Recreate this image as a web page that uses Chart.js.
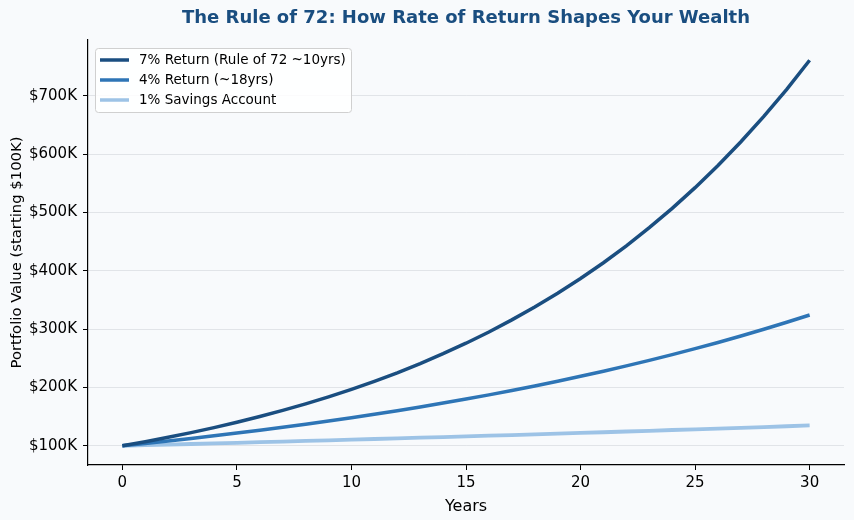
<!DOCTYPE html>
<html>
<head>
<meta charset="utf-8">
<script src="https://cdn.jsdelivr.net/npm/chart.js@4"></script>
<style>
  html, body { margin: 0; padding: 0; background: #f8fafc; }
  #wrap { width: 854px; height: 520px; }
</style>
</head>
<body>
<div id="wrap"><canvas id="myChart" width="854" height="520"></canvas></div>
<script>
// years 0..30, portfolio value in $K
let years = [0,1,2,3,4,5,6,7,8,9,10,11,12,13,14,15,16,17,18,19,20,21,22,23,24,25,26,27,28,29,30];
let ret7 = [100.0,107.0,114.5,122.5,131.1,140.3,150.1,160.6,171.8,183.8,196.7,210.5,225.2,241.0,257.9,275.9,
            295.2,315.9,338.0,361.7,387.0,414.0,443.0,474.1,507.2,542.7,580.7,621.4,664.9,711.4,761.2];
let ret4 = [100.0,104.0,108.2,112.5,117.0,121.7,126.5,131.6,136.9,142.3,148.0,153.9,160.1,166.5,173.2,180.1,
            187.3,194.8,202.6,210.7,219.1,227.9,237.0,246.5,256.3,266.6,277.2,288.3,299.9,311.9,324.3];
let ret1 = [100.0,101.0,102.0,103.0,104.1,105.1,106.2,107.2,108.3,109.4,110.5,111.6,112.7,113.8,114.9,116.1,
            117.3,118.4,119.6,120.8,122.0,123.2,124.5,125.7,127.0,128.2,129.5,130.8,132.1,133.5,134.8];
let seriesNames = ['7% Return (Rule of 72 ~10yrs)', '4% Return (~18yrs)', '1% Savings Account'];
let xTicks = [0, 5, 10, 15, 20, 25, 30];
let yTicks = [100, 200, 300, 400, 500, 600, 700];
let titleText = 'The Rule of 72: How Rate of Return Shapes Your Wealth';

let colors = ['#1a4e80', '#2e75b6', '#9dc3e6'];
let font = 'DejaVu Sans';

function pts(vals) {
  return vals.map((v, i) => ({ x: years[i], y: v }));
}

let bgPlugin = {
  id: 'bg',
  beforeDraw(chart) {
    let ctx = chart.ctx;
    ctx.save();
    ctx.fillStyle = '#f8fafc';
    ctx.fillRect(0, 0, chart.width, chart.height);
    ctx.restore();
  }
};

// title centred over the plot area, like matplotlib's ax.set_title
let titlePlugin = {
  id: 'axTitle',
  afterDraw(chart) {
    let ctx = chart.ctx;
    let a = chart.chartArea;
    ctx.save();
    ctx.font = 'bold 18px "' + font + '"';
    ctx.fillStyle = '#1a4e80';
    ctx.textAlign = 'center';
    ctx.textBaseline = 'middle';
    ctx.fillText(titleText, (a.left + a.right) / 2, 18);
    ctx.restore();
  }
};

// matplotlib-style legend box inside the plot
let legendBox = {
  id: 'legendBox',
  afterDraw(chart) {
    let ctx = chart.ctx;
    let x = 95, y = 48, w = 256, h = 64;
    ctx.save();
    ctx.fillStyle = 'rgba(255,255,255,0.85)';
    ctx.strokeStyle = '#d0d0d0';
    ctx.lineWidth = 1;
    ctx.beginPath();
    ctx.roundRect(x + 0.5, y + 0.5, w, h, 3);
    ctx.fill();
    ctx.stroke();
    ctx.font = '13.5px "' + font + '"';
    ctx.textBaseline = 'middle';
    chart.data.datasets.forEach((ds, i) => {
      let ly = y + 12 + i * 20;
      ctx.strokeStyle = ds.borderColor;
      ctx.lineWidth = 3.5;
      ctx.beginPath();
      ctx.moveTo(x + 5, ly);
      ctx.lineTo(x + 34, ly);
      ctx.stroke();
      ctx.fillStyle = '#000';
      ctx.fillText(ds.label, x + 44, ly);
    });
    ctx.restore();
  }
};

let myChart = document.getElementById('myChart').getContext('2d');
let chart = new Chart(myChart, {
  type: 'line',
  data: {
    datasets: [
      { label: seriesNames[0], data: pts(ret7), borderColor: colors[0], borderWidth: 3.5, pointRadius: 0, fill: false },
      { label: seriesNames[1], data: pts(ret4), borderColor: colors[1], borderWidth: 3.5, pointRadius: 0, fill: false },
      { label: seriesNames[2], data: pts(ret1), borderColor: colors[2], borderWidth: 3.8, pointRadius: 0, fill: false },
    ],
  },
  options: {
    responsive: false,
    animation: false,
    devicePixelRatio: 1,
    layout: { padding: { left: 0, right: 10, top: 40, bottom: 0 } },
    plugins: {
      legend: { display: false },
      tooltip: { enabled: false },
      title: { display: false },
    },
    scales: {
      x: {
        type: 'linear',
        min: -1.5,
        max: 31.5,
        afterBuildTicks: (s) => { s.ticks = xTicks.map((v) => ({ value: v })); },
        afterFit: (s) => { s.height = 55; },
        grid: { drawOnChartArea: false, drawTicks: true, tickLength: 5, tickColor: '#000' },
        border: { color: '#000', width: 1.2 },
        ticks: { color: '#000', padding: 4, font: { family: font, size: 15 } },
        title: { display: true, text: 'Years', color: '#000', padding: { top: 4 }, font: { family: font, size: 16 } },
      },
      y: {
        min: 67,
        max: 796,
        afterBuildTicks: (s) => { s.ticks = yTicks.map((v) => ({ value: v })); },
        afterFit: (s) => { s.width = 88; },
        grid: { color: '#e1e4e8', lineWidth: 1, tickLength: 5, tickColor: '#000' },
        border: { color: '#000', width: 1.2 },
        ticks: { color: '#000', padding: 6, font: { family: font, size: 15 }, callback: (v) => '$' + v + 'K' },
        title: { display: true, text: 'Portfolio Value (starting $100K)', color: '#000', padding: { top: 8, bottom: 2 }, font: { family: font, size: 14.8 } },
      },
    },
  },
  plugins: [bgPlugin, titlePlugin, legendBox],
});
</script>
</body>
</html>
